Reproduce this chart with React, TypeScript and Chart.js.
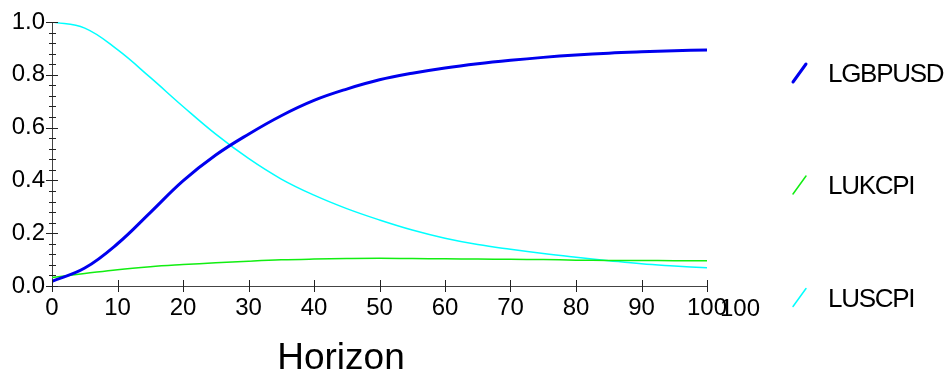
import React, { useEffect, useRef } from "react";
import { Chart, registerables } from "chart.js";

Chart.register(...registerables);

const horizons = [0, 5, 10, 15, 20, 25, 30, 35, 40, 45, 50, 55, 60, 65, 70, 75, 80, 85, 90, 95, 100];
const lgbpusd = [0.018, 0.068, 0.16, 0.278, 0.398, 0.496, 0.575, 0.645, 0.703, 0.746, 0.781, 0.806, 0.826, 0.842, 0.855, 0.866, 0.875, 0.882, 0.887, 0.891, 0.894];
const lukcpi = [0.032, 0.047, 0.062, 0.073, 0.081, 0.088, 0.094, 0.099, 0.102, 0.104, 0.105, 0.104, 0.103, 0.102, 0.101, 0.1, 0.098, 0.097, 0.097, 0.096, 0.096];
const lusdcpi = [1.0, 0.977, 0.895, 0.79, 0.68, 0.575, 0.483, 0.405, 0.344, 0.293, 0.25, 0.212, 0.181, 0.157, 0.139, 0.123, 0.109, 0.096, 0.084, 0.076, 0.069];
const seriesNames = ["LGBPUSD", "LUKCPI", "LUSCPI"];
const seriesColors = ["#0000ee", "#11ee11", "#00ffff"];
const seriesWidths = [3, 1.5, 1.5];
const xTitle = "Horizon";
const strayLabel = "100";
const FONT = "'Liberation Sans', Arial, Helvetica, sans-serif";

const decorPlugin = {
  id: "decor",
  afterDraw(chart: any) {
    const ctx = chart.ctx as CanvasRenderingContext2D;
    const xs = chart.scales.x;
    const ys = chart.scales.y;
    const axisX = chart.chartArea.left;
    const axisY = chart.chartArea.bottom;
    ctx.save();
    ctx.strokeStyle = "#222";
    ctx.lineWidth = 1;
    for (let i = 0; i <= 25; i++) {
      const yp = Math.round(ys.getPixelForValue(i * 0.04)) + 0.5;
      const major = i % 5 === 0;
      ctx.beginPath();
      ctx.moveTo(axisX - (major ? 6 : 3), yp);
      ctx.lineTo(axisX + (major ? 6 : 4), yp);
      ctx.stroke();
    }
    for (let h = 0; h <= 100; h += 10) {
      const xp = Math.round(xs.getPixelForValue(h)) + 0.5;
      ctx.beginPath();
      ctx.moveTo(xp, axisY - 6);
      ctx.lineTo(xp, axisY + 6);
      ctx.stroke();
    }
    ctx.fillStyle = "#000";
    ctx.font = `24px ${FONT}`;
    ctx.textAlign = "center";
    ctx.textBaseline = "alphabetic";
    ctx.fillText(strayLabel, 740, 316);
    ctx.font = `37px ${FONT}`;
    ctx.fillText(xTitle, 341, 369);
    const baselines = [82, 194, 306.5];
    ctx.textAlign = "left";
    ctx.font = `26px ${FONT}`;
    (ctx as any).letterSpacing = "-1.3px";
    for (let i = 0; i < seriesNames.length; i++) {
      const b = baselines[i];
      ctx.strokeStyle = seriesColors[i];
      ctx.lineWidth = seriesWidths[i];
      ctx.lineCap = "round";
      ctx.beginPath();
      ctx.moveTo(793, b);
      ctx.lineTo(806, b - 18);
      ctx.stroke();
      ctx.fillStyle = "#000";
      ctx.fillText(seriesNames[i], 828, b);
    }
    ctx.restore();
  },
};

export default function App() {
  const ref = useRef<HTMLCanvasElement | null>(null);
  useEffect(() => {
    if (!ref.current) return;
    const mk = (vals: number[]) => horizons.map((h, i) => ({ x: h, y: vals[i] }));
    const all = [lgbpusd, lukcpi, lusdcpi];
    const chart = new Chart(ref.current, {
      type: "line",
      data: {
        datasets: all.map((vals, i) => ({
          label: seriesNames[i],
          data: mk(vals),
          borderColor: seriesColors[i],
          backgroundColor: seriesColors[i],
          borderWidth: seriesWidths[i],
          pointRadius: 0,
          tension: 0.4,
          fill: false,
        })),
      },
      options: {
        responsive: false,
        animation: false,
        layout: { padding: { left: 0, top: 22, right: 238, bottom: 0 } },
        plugins: { legend: { display: false }, tooltip: { enabled: false } },
        scales: {
          x: {
            type: "linear",
            min: 0,
            max: 100,
            afterFit: (s: any) => { s.height = 90; },
            grid: { drawOnChartArea: false, drawTicks: false },
            border: { display: true, color: "#444", width: 1 },
            ticks: {
              stepSize: 10,
              padding: 8,
              color: "#000",
              font: { family: FONT, size: 24 },
              maxRotation: 0,
              autoSkip: false,
            },
          },
          y: {
            type: "linear",
            min: 0,
            max: 1,
            afterFit: (s: any) => { s.width = 52; },
            grid: { drawOnChartArea: false, drawTicks: false },
            border: { display: true, color: "#444", width: 1 },
            ticks: {
              stepSize: 0.2,
              padding: 7,
              color: "#000",
              font: { family: FONT, size: 24 },
              callback: (v: any) => Number(v).toFixed(1),
            },
          },
        },
      },
      plugins: [decorPlugin],
    });
    return () => chart.destroy();
  }, []);
  return (
    <div style={{ position: "fixed", left: 0, top: 0, width: 945, height: 376, background: "#fff" }}>
      <canvas ref={ref} width={945} height={376} style={{ display: "block" }} />
    </div>
  );
}
